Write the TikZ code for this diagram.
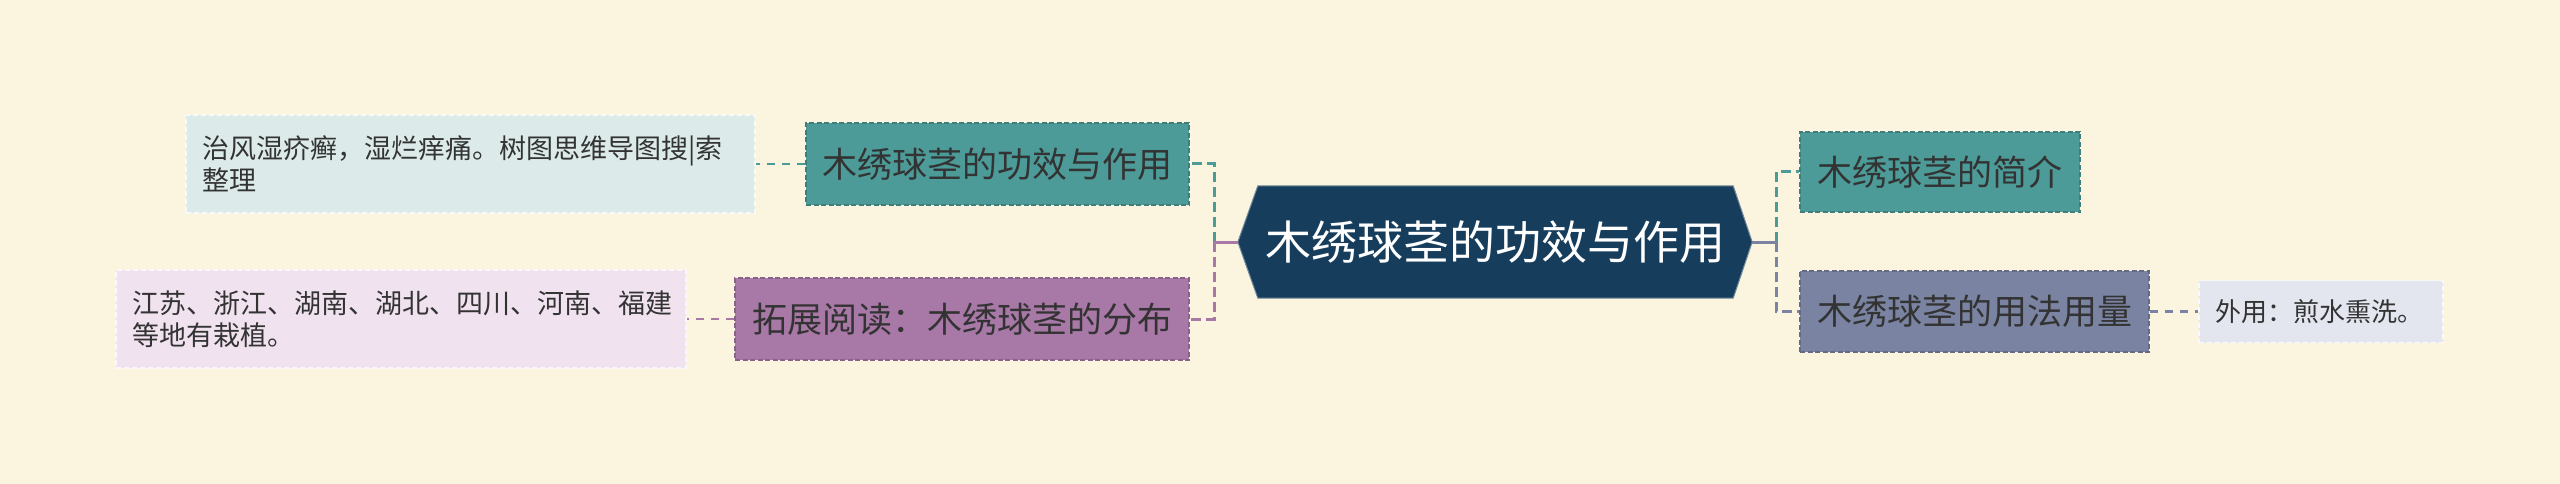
\documentclass[tikz,border=0pt]{standalone}
\usepackage{fontspec}
\newfontfamily\cjk{Noto Sans CJK SC}
\usetikzlibrary{backgrounds}
\definecolor{bg}{HTML}{FBF5E0}
\definecolor{hubc}{HTML}{173D5C}
\definecolor{tealc}{HTML}{4C9B98}
\definecolor{purc}{HTML}{A878A7}
\definecolor{grayc}{HTML}{7A84A2}
\definecolor{leafT}{HTML}{DCEBE9}
\definecolor{leafP}{HTML}{F0E3EF}
\definecolor{leafG}{HTML}{E3E6EF}
\definecolor{txt}{HTML}{333333}
\begin{document}
\begin{tikzpicture}[x=1pt,y=-1pt,
  hubnode/.style={rectangle, inner sep=0pt, minimum width=514pt, minimum height=112pt,
    font=\cjk\fontsize{46}{52}\selectfont, text=white},
  box/.style={rectangle, inner sep=0pt, minimum height=82pt,
    font=\cjk\fontsize{35}{42}\selectfont, text=txt,
    dash pattern=on 5pt off 2.5pt, line width=1.4pt},
  leaf/.style={rectangle, inner xsep=16pt, inner ysep=0pt, align=left,
    font=\cjk\fontsize{27}{32}\selectfont, text=txt,
    dash pattern=on 5pt off 3pt, line width=1.5pt, draw=white!75!#1, fill=#1},
  link/.style={dash pattern=on 10pt off 5pt, line width=3pt},
  leaflink/.style={dash pattern=on 8pt off 7pt, line width=2.2pt},
  stub/.style={line width=3pt}]
\useasboundingbox (0,0) rectangle (2560,484);

% central topic
\node[hubnode] (hub) at (1495,242) {木绣球茎的功效与作用};
\begin{scope}[on background layer]
  \fill[bg] (0,0) rectangle (2560,484);
  \fill[hubc, draw=white!40!hubc, line width=1pt] (hub.west) -- ([xshift=20pt]hub.north west) -- ([xshift=-19pt]hub.north east)
    -- (hub.east) -- ([xshift=-19pt]hub.south east) -- ([xshift=20pt]hub.south west) -- cycle;
\end{scope}

% left branches
\node[box, fill=tealc, draw=tealc!82!black, minimum width=383pt] (L1) at (997.5,164) {木绣球茎的功效与作用};
\node[box, fill=purc, draw=purc!82!black, minimum width=454pt] (L2) at (962,319) {拓展阅读：木绣球茎的分布};
\node[leaf=leafT, minimum width=569pt, minimum height=98pt, text width=537pt] (leaf1) at (470.5,164)
  {治风湿疥癣，湿烂痒痛。树图思维导图搜|索\\整理};
\node[leaf=leafP, minimum width=570pt, minimum height=98pt, text width=538pt] (leaf2) at (401,319)
  {江苏、浙江、湖南、湖北、四川、河南、福建\\等地有栽植。};

% right branches
\node[box, fill=tealc, draw=tealc!82!black, minimum width=280pt, minimum height=80pt] (R1) at (1940,172) {木绣球茎的简介};
\node[box, fill=grayc, draw=grayc!82!black, minimum width=349pt, minimum height=81pt] (R2) at (1974.5,311.5) {木绣球茎的用法用量};
\node[leaf=leafG, minimum width=244pt, minimum height=62pt, text width=212pt,
  font=\cjk\fontsize{26}{32}\selectfont] (R3) at (2321,311.5) {外用：煎水熏洗。};

% connectors
\coordinate (lj) at (1214,242);
\coordinate (rj) at (1776,242);
\draw[link, tealc] (lj) |- (L1.east);
\draw[link, purc] (lj) |- (L2.east);
\draw[stub, purc] (hub.west) -- (lj);
\draw[leaflink, tealc] (L1.west) -- (leaf1.east);
\draw[leaflink, purc] (L2.west) -- (leaf2.east);

\draw[link, tealc] (rj) |- (R1.west);
\draw[link, grayc] (rj) |- (R2.west);
\draw[stub, grayc] (hub.east) -- (rj);
\draw[leaflink, grayc] (R2.east) -- (R3.west);
\end{tikzpicture}
\end{document}
